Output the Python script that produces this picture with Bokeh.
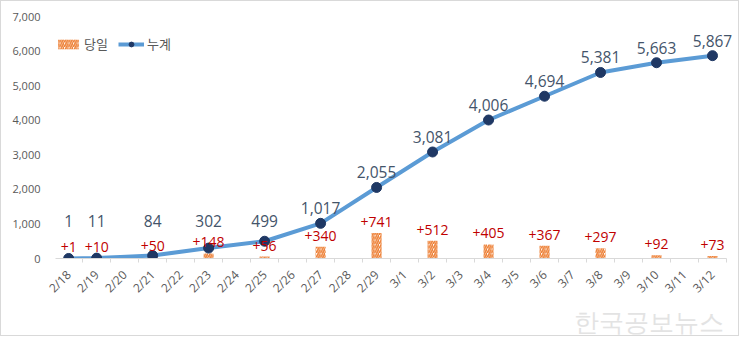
from bokeh.plotting import figure
from bokeh.models import (ColumnDataSource, Range1d, Legend, LegendItem, FixedTicker,
                          NumeralTickFormatter, Title, LabelSet)
from bokeh.core.properties import value
from bokeh.embed import file_html
from bokeh.resources import INLINE
import math

# ---- data ----
all_days = ["2/18", "2/19", "2/20", "2/21", "2/22", "2/23", "2/24", "2/25", "2/26", "2/27",
            "2/28", "2/29", "3/1", "3/2", "3/3", "3/4", "3/5", "3/6", "3/7", "3/8",
            "3/9", "3/10", "3/11", "3/12"]
data_days = ["2/18", "2/19", "2/21", "2/23", "2/25", "2/27", "2/29", "3/2", "3/4", "3/6",
             "3/8", "3/10", "3/12"]
daily = [1, 10, 50, 148, 56, 340, 741, 512, 405, 367, 297, 92, 73]
cumulative = [1, 11, 84, 302, 499, 1017, 2055, 3081, 4006, 4694, 5381, 5663, 5867]
y_ticks = [0, 1000, 2000, 3000, 4000, 5000, 6000, 7000]
legend_labels = ["당일", "누계"]
watermark = "한국공보뉴스"

NUM_FONT = "Open Sans"
KR_FONT = "Noto Sans CJK KR"

pos = {d: i for i, d in enumerate(all_days)}
src = ColumnDataSource(dict(
    x=[pos[d] for d in data_days],
    daily=daily,
    cum=cumulative,
    daily_txt=["+{:,}".format(v) for v in daily],
    cum_txt=["{:,}".format(v) for v in cumulative],
    cum_lab_y=[max(c, 650) for c in cumulative],
))

n = len(all_days)
p = figure(width=739, height=336, x_range=Range1d(-0.47, n),
           y_range=Range1d(0, 7000), output_backend="svg", toolbar_location=None,
           min_border_left=54, min_border_right=0, min_border_top=15, min_border_bottom=78)
p.styles = {"border": "1px solid #D9D9D9"}
p.outline_line_color = None
p.background_fill_color = "white"
p.border_fill_color = "white"
p.xgrid.grid_line_color = None
p.ygrid.grid_line_color = None

bars = p.vbar(x="x", top="daily", width=0.36, source=src, fill_color="white",
              line_color=None, hatch_pattern="/", hatch_color="#ED7D31",
              hatch_scale=4.5, hatch_weight=1.6)
line = p.line(x="x", y="cum", source=src, line_color="#5B9BD5", line_width=4)
pts = p.scatter(x="x", y="cum", source=src, size=10, fill_color="#1F3864",
                line_color="#1F3864")

p.add_layout(LabelSet(x="x", y="daily", text="daily_txt", source=src, y_offset=6,
                      text_align="center", text_baseline="bottom", text_color="#C00000",
                      text_font=value(NUM_FONT), text_font_size="14px"))
p.add_layout(LabelSet(x="x", y="cum_lab_y", text="cum_txt", source=src, y_offset=9,
                      text_align="center", text_baseline="bottom", text_color="#44546A",
                      text_font=value(NUM_FONT), text_font_size="15.5px"))

# axes
p.yaxis.ticker = y_ticks
p.yaxis.formatter = NumeralTickFormatter(format="0,0")
p.yaxis.axis_line_color = None
p.yaxis.major_tick_line_color = None
p.yaxis.major_tick_out = 0
p.yaxis.minor_tick_line_color = None
p.yaxis.major_label_text_font = NUM_FONT
p.yaxis.major_label_text_font_size = "11px"
p.yaxis.major_label_text_color = "#595959"
p.yaxis.major_label_standoff = 15

p.xaxis.ticker = FixedTicker(ticks=list(range(n)),
                             minor_ticks=[i - 0.5 for i in range(n + 1)])
p.xaxis.major_label_overrides = {i: d for i, d in enumerate(all_days)}
p.xaxis.bounds = (-0.47, n - 0.5)
p.xaxis.axis_line_color = "#D9D9D9"
p.xaxis.major_tick_line_color = None
p.xaxis.major_tick_out = 4
p.xaxis.major_tick_in = 0
p.xaxis.minor_tick_line_color = "#D9D9D9"
p.xaxis.minor_tick_out = 4
p.xaxis.minor_tick_in = 0
p.xaxis.major_label_orientation = math.pi / 4
p.xaxis.major_label_standoff = 10
p.xaxis.major_label_text_font = NUM_FONT
p.xaxis.major_label_text_font_size = "12px"
p.xaxis.major_label_text_color = "#595959"

legend = Legend(items=[LegendItem(label=legend_labels[0], renderers=[bars]),
                       LegendItem(label=legend_labels[1], renderers=[line, pts])],
                orientation="horizontal", location=(0, 205),
                border_line_color=None, background_fill_alpha=0,
                label_text_font=KR_FONT, label_text_font_size="13px",
                label_text_color="#595959", glyph_width=26, glyph_height=12,
                label_standoff=3, spacing=10, margin=0, padding=0)
p.add_layout(legend)

p.add_layout(Title(text=watermark, align="right", offset=17, standoff=0,
                   vertical_align="top",
                   text_color="#E3E3E3", text_font="Lato", text_font_size="25px",
                   text_font_style="normal", text_line_height=1.0), "below")

open("out.html", "w").write(file_html(p, INLINE))
